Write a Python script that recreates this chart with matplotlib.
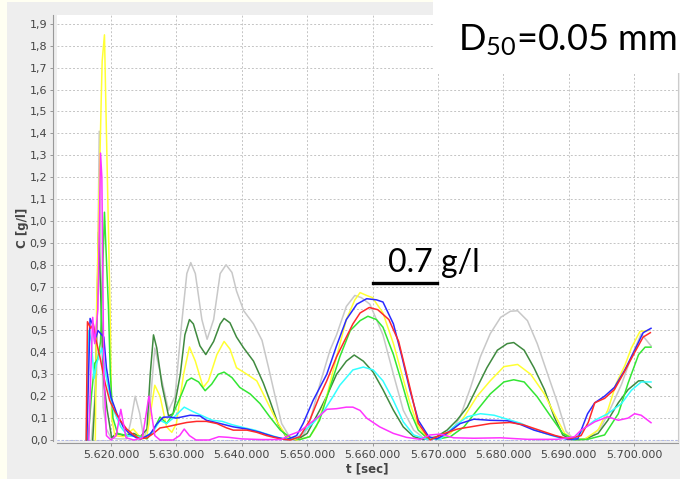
import matplotlib
matplotlib.use("Agg")
import matplotlib.pyplot as plt
from matplotlib.patches import Rectangle
from matplotlib.ticker import FuncFormatter, MultipleLocator
import numpy as np

# time in thousands of seconds, concentration in g/l
grey_t = [5617.0, 5617.8, 5618.2, 5618.5, 5618.8, 5619.3, 5620.0, 5621.0, 5622.4, 5623.0, 5623.7, 5624.4, 5625.0, 5625.7,
          5626.7, 5627.8, 5628.8, 5629.8, 5630.8, 5631.6, 5632.2, 5632.9, 5633.9, 5634.7, 5635.7, 5636.7, 5637.6, 5638.5,
          5639.2, 5640.3, 5641.8, 5643.1, 5644.1, 5645.1, 5646.1, 5647.4, 5648.9, 5650.2, 5652.0, 5653.5, 5654.5, 5656.0,
          5657.3, 5658.3, 5659.6, 5661.6, 5663.2, 5664.7, 5666.3, 5667.8, 5669.8, 5671.9, 5673.4, 5675.0, 5676.5, 5678.0,
          5679.6, 5681.1, 5682.2, 5683.7, 5685.2, 5686.8, 5688.3, 5689.6, 5690.9, 5692.9, 5695.0, 5696.5, 5698.1, 5699.6,
          5701.1, 5702.6]
grey_c = [0, 0.3, 1.41, 0.6, 0.15, 0.05, 0.01, 0.005, 0.005, 0.08, 0.20, 0.12, 0.01, 0.06,
          0.42, 0.27, 0.135, 0.20, 0.53, 0.76, 0.81, 0.76, 0.55, 0.46, 0.55, 0.76, 0.80, 0.765,
          0.68, 0.59, 0.53, 0.455, 0.33, 0.20, 0.075, 0.01, 0.002, 0.06, 0.26, 0.41, 0.48, 0.61,
          0.66, 0.65, 0.62, 0.48, 0.30, 0.136, 0.045, 0.01, 0.003, 0.03, 0.105, 0.24, 0.38, 0.485,
          0.56, 0.588, 0.59, 0.545, 0.44, 0.30, 0.17, 0.04, 0.002, 0.002, 0.06, 0.15, 0.255, 0.38,
          0.485, 0.43]

dgreen_t = [5617.2, 5617.6, 5618.1, 5618.5, 5618.9, 5619.4, 5620.1, 5620.8, 5622.0, 5623.5, 5624.5, 5625.5, 5626.0,
            5626.5, 5627.0, 5627.8, 5628.8, 5629.5, 5630.6, 5631.3, 5632.0, 5632.6, 5633.6, 5634.5, 5635.7, 5636.7,
            5637.3, 5638.2, 5639.2, 5640.3, 5641.8, 5643.3, 5644.3, 5645.6, 5646.9, 5648.4, 5650.0, 5652.0, 5653.0,
            5654.5, 5656.0, 5657.2, 5658.6, 5660.1, 5661.6, 5663.2, 5664.7, 5666.3, 5667.8, 5669.8, 5671.4, 5672.9,
            5674.5, 5676.0, 5677.5, 5679.1, 5680.6, 5681.6, 5683.2, 5684.7, 5686.3, 5687.8, 5689.1, 5690.4, 5692.4,
            5694.5, 5696.0, 5697.6, 5699.1, 5700.7, 5701.4, 5702.6]
dgreen_c = [0, 0.2, 0.95, 0.6, 0.26, 0.14, 0.01, 0.03, 0.02, 0.03, 0.015, 0.05, 0.3,
            0.48, 0.42, 0.25, 0.11, 0.12, 0.30, 0.48, 0.55, 0.53, 0.43, 0.39, 0.45, 0.53,
            0.555, 0.535, 0.47, 0.42, 0.36, 0.26, 0.18, 0.07, 0.01, 0.0, 0.03, 0.14, 0.2,
            0.3, 0.36, 0.388, 0.36, 0.31, 0.23, 0.136, 0.06, 0.015, 0.003, 0.015, 0.045, 0.09,
            0.15, 0.24, 0.33, 0.41, 0.44, 0.445, 0.41, 0.33, 0.23, 0.105, 0.023, 0.002, 0.003,
            0.03, 0.09, 0.17, 0.23, 0.27, 0.27, 0.24]

yellow_t = [5617.6, 5617.8, 5618.5, 5618.65, 5619.0, 5619.2, 5619.85, 5620.1, 5620.6, 5621.9, 5623.4, 5624.4, 5625.5,
            5626.7, 5627.5, 5628.5, 5629.3, 5630.0, 5631.1, 5632.0, 5632.9, 5634.1, 5634.9, 5636.2, 5637.3, 5638.2,
            5639.2, 5640.8, 5642.3, 5643.8, 5645.4, 5646.9, 5648.4, 5650.4, 5651.4, 5653.0, 5654.5, 5656.0, 5657.3,
            5658.1, 5659.1, 5660.0, 5661.6, 5663.2, 5664.5, 5665.7, 5667.0, 5668.3, 5669.8, 5671.9, 5674.0, 5676.0,
            5678.0, 5680.1, 5682.2, 5684.2, 5686.3, 5687.8, 5689.4, 5690.9, 5692.4, 5694.5, 5696.0, 5697.3, 5698.6,
            5699.6, 5700.9, 5702.2]
yellow_c = [0, 0.61, 1.55, 1.73, 1.85, 1.55, 0.61, 0.1, 0.02, 0.015, 0.05, 0.015, 0.02,
            0.25, 0.2, 0.06, 0.035, 0.075, 0.30, 0.425, 0.36, 0.24, 0.27, 0.39, 0.45, 0.415,
            0.33, 0.30, 0.27, 0.18, 0.083, 0.015, 0.0, 0.015, 0.06, 0.2, 0.38, 0.55, 0.64,
            0.673, 0.66, 0.65, 0.58, 0.44, 0.30, 0.17, 0.06, 0.015, 0.005, 0.03, 0.105, 0.20,
            0.27, 0.335, 0.345, 0.30, 0.21, 0.12, 0.03, 0.003, 0.003, 0.045, 0.137, 0.26, 0.34,
            0.42, 0.495, 0.50]

green_t = [5616.5, 5617.0, 5617.5, 5618.0, 5618.4, 5619.0, 5619.6, 5619.9, 5620.3, 5621.0, 5622.5, 5624.0, 5625.5,
           5626.5, 5627.5, 5628.5, 5629.5, 5630.8, 5631.6, 5632.3, 5633.4, 5634.4, 5635.4, 5636.4, 5637.3, 5638.5,
           5639.7, 5641.3, 5642.8, 5644.3, 5645.9, 5647.4, 5648.9, 5650.4, 5651.9, 5653.5, 5655.0, 5656.6, 5658.1,
           5659.3, 5660.6, 5661.6, 5663.2, 5664.5, 5665.7, 5667.0, 5668.3, 5669.8, 5671.9, 5674.0, 5676.0, 5678.0,
           5680.1, 5681.6, 5683.2, 5685.2, 5687.3, 5689.1, 5690.9, 5692.9, 5695.5, 5697.6, 5699.1, 5700.7, 5701.7,
           5702.6]
green_c = [0, 0.2, 0.35, 0.37, 0.45, 1.04, 0.61, 0.3, 0.1, 0.03, 0.02, 0.02, 0.005,
           0.045, 0.105, 0.075, 0.12, 0.21, 0.27, 0.283, 0.265, 0.225, 0.255, 0.30, 0.31, 0.285,
           0.24, 0.21, 0.166, 0.105, 0.045, 0.012, 0.002, 0.015, 0.09, 0.24, 0.38, 0.50, 0.545,
           0.565, 0.55, 0.515, 0.39, 0.26, 0.136, 0.045, 0.01, 0.003, 0.015, 0.06, 0.136, 0.21,
           0.265, 0.275, 0.265, 0.197, 0.106, 0.03, 0.002, 0.003, 0.023, 0.12, 0.26, 0.39, 0.424,
           0.424]

cyan_t = [5616.2, 5616.6, 5617.0, 5617.4, 5617.8, 5618.6, 5619.2, 5620.2, 5621.5, 5622.5, 5624.0, 5625.0, 5626.5,
          5627.5, 5628.5, 5629.5, 5630.5, 5631.2, 5632.5, 5634.0, 5635.5, 5637.0, 5638.5, 5640.5, 5642.0, 5643.5,
          5645.5, 5647.0, 5648.5, 5649.5, 5651.0, 5652.5, 5654.0, 5655.0, 5657.0, 5658.6, 5660.1, 5661.6, 5663.2,
          5664.7, 5666.3, 5668.3, 5670.4, 5672.4, 5674.5, 5676.5, 5678.6, 5680.6, 5682.7, 5684.7, 5686.8, 5688.8,
          5690.9, 5692.4, 5694.0, 5696.0, 5698.1, 5699.6, 5701.1, 5702.6]
cyan_c = [0, 0.5, 0.45, 0.28, 0.35, 0.42, 0.3, 0.15, 0.06, 0.02, 0.015, 0.01, 0.04,
          0.09, 0.075, 0.10, 0.13, 0.15, 0.13, 0.11, 0.09, 0.085, 0.07, 0.055, 0.045, 0.03,
          0.012, 0.002, 0.01, 0.04, 0.08, 0.13, 0.2, 0.25, 0.32, 0.333, 0.32, 0.27, 0.18,
          0.083, 0.023, 0.003, 0.005, 0.06, 0.106, 0.12, 0.113, 0.095, 0.076, 0.048, 0.026, 0.008,
          0.002, 0.053, 0.09, 0.12, 0.167, 0.227, 0.265, 0.265]

blue_t = [5616.3, 5616.8, 5617.3, 5617.5, 5618.0, 5618.6, 5618.9, 5619.3, 5620.0, 5620.9, 5621.9, 5622.9, 5623.9,
          5624.6, 5626.0, 5627.0, 5628.0, 5629.0, 5630.0, 5632.1, 5633.6, 5634.6, 5636.7, 5638.7, 5640.8, 5642.8,
          5644.9, 5646.9, 5648.4, 5649.4, 5650.9, 5653.0, 5654.5, 5656.0, 5657.6, 5659.1, 5660.6, 5661.6, 5663.2,
          5664.5, 5665.7, 5667.0, 5668.6, 5669.8, 5671.4, 5673.4, 5675.5, 5678.0, 5680.6, 5682.7, 5684.7, 5687.3,
          5689.9, 5691.4, 5692.9, 5694.0, 5695.5, 5697.0, 5698.6, 5700.1, 5701.4, 5702.6]
blue_c = [0, 0.555, 0.52, 0.45, 0.50, 0.48, 0.47, 0.33, 0.195, 0.12, 0.058, 0.027, 0.01,
          0.005, 0.027, 0.073, 0.104, 0.105, 0.10, 0.113, 0.11, 0.09, 0.075, 0.06, 0.05, 0.035,
          0.015, 0.002, 0.02, 0.076, 0.18, 0.30, 0.43, 0.55, 0.62, 0.645, 0.64, 0.63, 0.53,
          0.38, 0.23, 0.09, 0.015, 0.005, 0.03, 0.075, 0.095, 0.09, 0.088, 0.07, 0.045, 0.023,
          0.003, 0.005, 0.12, 0.17, 0.20, 0.24, 0.32, 0.41, 0.49, 0.51]

red_t = [5616.2, 5616.4, 5616.9, 5617.3, 5617.6, 5618.3, 5619.1, 5619.8, 5620.6, 5621.4, 5622.4, 5623.4, 5624.4,
         5625.5, 5626.5, 5627.5, 5628.5, 5630.0, 5631.6, 5633.1, 5634.6, 5636.2, 5637.7, 5638.7, 5640.8, 5642.3,
         5643.8, 5645.9, 5647.4, 5648.9, 5650.4, 5651.9, 5653.0, 5654.5, 5655.5, 5657.0, 5658.1, 5659.5, 5660.8,
         5662.5, 5664.0, 5665.8, 5667.0, 5668.8, 5671.0, 5673.0, 5675.0, 5678.0, 5681.0, 5683.0, 5685.0, 5688.0,
         5690.0, 5691.9, 5693.0, 5694.0, 5695.5, 5697.0, 5698.5, 5700.1, 5701.4, 5702.5]
red_c = [0, 0.54, 0.51, 0.53, 0.47, 0.38, 0.26, 0.18, 0.13, 0.09, 0.05, 0.025, 0.005,
         0.01, 0.03, 0.055, 0.06, 0.07, 0.08, 0.085, 0.085, 0.075, 0.055, 0.045, 0.045, 0.035,
         0.02, 0.005, 0.0, 0.015, 0.09, 0.20, 0.27, 0.38, 0.44, 0.53, 0.58, 0.605, 0.595,
         0.55, 0.45, 0.23, 0.076, 0.0, 0.03, 0.05, 0.06, 0.075, 0.08, 0.07, 0.05, 0.02,
         0.005, 0.02, 0.08, 0.17, 0.19, 0.23, 0.31, 0.40, 0.47, 0.49]

magenta_t = [5616.6, 5616.9, 5617.2, 5617.5, 5617.7, 5618.0, 5618.4, 5618.6, 5618.9, 5619.3, 5620.0, 5620.8, 5621.5,
             5622.3, 5623.5, 5624.8, 5625.8, 5626.7, 5627.5, 5629.5, 5630.5, 5631.2, 5632.0, 5633.0, 5635.0, 5636.5,
             5638.0, 5640.0, 5643.0, 5646.0, 5647.4, 5648.9, 5650.4, 5651.9, 5653.0, 5654.5, 5656.0, 5657.0, 5658.1,
             5659.1, 5661.1, 5663.2, 5665.2, 5667.3, 5668.8, 5670.4, 5672.4, 5675.5, 5679.6, 5683.7, 5688.3, 5690.9,
             5691.9, 5694.0, 5696.0, 5697.6, 5699.1, 5700.1, 5701.1, 5702.6]
magenta_c = [0, 0.3, 0.56, 0.44, 0.5, 0.6, 1.31, 1.2, 0.3, 0.02, 0.0, 0.02, 0.14,
             0.01, 0.0, 0.01, 0.2, 0.02, 0.0, 0.0, 0.02, 0.05, 0.02, 0.0, 0.0, 0.015,
             0.012, 0.005, 0.002, 0.002, 0.023, 0.04, 0.075, 0.11, 0.14, 0.143, 0.15, 0.15, 0.135,
             0.1, 0.06, 0.03, 0.012, 0.003, 0.023, 0.027, 0.01, 0.008, 0.01, 0.003, 0.003, 0.015,
             0.045, 0.083, 0.106, 0.09, 0.1, 0.12, 0.113, 0.079]

series = [
    (grey_t, grey_c, "#c8c8c8"),
    (dgreen_t, dgreen_c, "#3f8a3f"),
    (yellow_t, yellow_c, "#ffff33"),
    (green_t, green_c, "#33e633"),
    (cyan_t, cyan_c, "#33ffff"),
    (blue_t, blue_c, "#2a2aff"),
    (red_t, red_c, "#ff2a2a"),
    (magenta_t, magenta_c, "#ff33ff"),
]

plt.rcParams["mathtext.default"] = "regular"

W, H = 680, 479
fig = plt.figure(figsize=(W / 100, H / 100), dpi=100)
fig.patch.set_facecolor("#fffff2")

# grey chart panel behind the axes
fig.patches.append(Rectangle((7 / W, 0), 1 - 7 / W, 1 - 2 / H, transform=fig.transFigure,
                             facecolor="#eeeeee", edgecolor="none", zorder=-5))

ax = fig.add_axes([57 / W, 1 - 441 / H, (678 - 57) / W, (441 - 15) / H])
ax.set_zorder(1)
ax.set_facecolor("white")

for t, c, col in series:
    ax.plot(np.array(t) * 1000, c, color=col, lw=1.1, zorder=3)

ax.axhline(0, color="#b0b8e8", lw=0.8, ls=(0, (2, 2)), zorder=2)

ax.set_xlim(5611740, 5706730)
ax.set_ylim(-0.0046, 1.9406)
ax.xaxis.set_major_locator(MultipleLocator(10000))
ax.yaxis.set_major_locator(MultipleLocator(0.1))
ax.xaxis.set_major_formatter(FuncFormatter(lambda x, p: f"{x:,.0f}".replace(",", ".")))
ax.yaxis.set_major_formatter(FuncFormatter(lambda y, p: f"{y:.1f}".replace(".", ",")))
ax.grid(True, color="#c4c4c4", lw=0.7, ls=(0, (2, 2)))
ax.set_axisbelow(True)

ax.spines["top"].set_visible(False)
ax.spines["right"].set_color("#cccccc")
ax.spines["left"].set_color("#999999")
ax.spines["bottom"].set_color("#999999")
ax.spines["left"].set_position(("outward", 3))
ax.spines["bottom"].set_position(("outward", 1.5))
ax.tick_params(axis="both", labelsize=8, colors="#999999", labelcolor="#444444", length=2, width=0.7)
ax.tick_params(axis="y", pad=2)
ax.tick_params(axis="x", pad=3)

fig.text(22 / W, 1 - 228 / H, "C [g/l]", rotation=90, ha="center", va="center",
         fontsize=8.5, fontweight="bold", color="#444444")
fig.text(367 / W, 1 - 469 / H, "t [sec]", ha="center", va="center",
         fontsize=8.5, fontweight="bold", color="#444444")

# overlay annotations (white box on top right, scale bar)
fig.patches.append(Rectangle((433 / W, 1 - 73 / H), 1 - 433 / W, 73 / H, transform=fig.transFigure,
                             facecolor="white", edgecolor="none", zorder=5))
fig.text(567 / W, 1 - 40 / H, "D$_{50}$=0.05 mm", ha="center", va="center",
         fontsize=26, family="Lato", color="black", zorder=6)
fig.text(388 / W, 1 - 272 / H, "0.7 g/l", ha="left", va="baseline",
         fontsize=23, family="Lato", color="black", zorder=6)
fig.add_artist(plt.Line2D([373 / W, 437 / W], [1 - 283 / H, 1 - 283 / H], transform=fig.transFigure,
                          color="black", lw=2.4, zorder=6))

fig.savefig("out.png", dpi=100, facecolor=fig.get_facecolor())
